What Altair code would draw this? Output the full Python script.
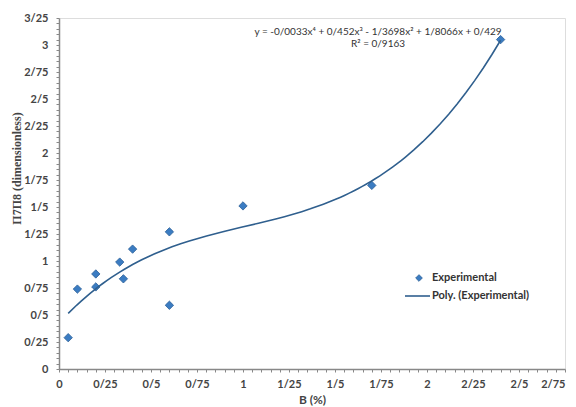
import altair as alt
import pandas as pd

b_pct = [0.05, 0.10, 0.20, 0.20, 0.33, 0.35, 0.40, 0.60, 0.60, 1.00, 1.70, 2.40]
pi78 = [0.29, 0.74, 0.88, 0.76, 0.99, 0.835, 1.11, 1.27, 0.59, 1.51, 1.70, 3.05]

x_ticks = [round(i * 0.05, 2) for i in range(56)]
y_ticks = [round(i * 0.05, 2) for i in range(66)]

equation = "y = -0/0033x\u2074 + 0/452x\u00b3 - 1/3698x\u00b2 + 1/8066x + 0/429"
r2 = "R\u00b2 = 0/9163"
legend_labels = ["Experimental", "Poly. (Experimental)"]

df = pd.DataFrame({"x": b_pct, "y": pi78})

label_expr = ("abs(datum.value*4 - round(datum.value*4)) < 0.001 ? "
              "replace(format(datum.value, '~g'), '.', '/') : ''")

MARK_FILL = "#3b7cc2"
MARK_STROKE = "#2a5e97"
LINE_COLOR = "#2f5f8e"
FONT = "Lato"

x_scale = alt.Scale(domain=[0, 2.75], nice=False, zero=False)
y_scale = alt.Scale(domain=[0, 3.25], nice=False, zero=False)

x_axis = alt.Axis(values=x_ticks, labelExpr=label_expr, title="B (%)", grid=False,
                  tickSize=3, tickColor="#888", domainColor="#888", domainWidth=1.5,
                  labelFont=FONT, labelFontSize=11, labelFontWeight="bold", labelColor="#444",
                  labelPadding=6, labelOverlap=False,
                  labelAlign={"expr": "datum.value > 2.7 ? 'right' : 'center'"},
                  titleFont=FONT, titleFontSize=12, titleFontWeight="bold", titleColor="#444",
                  titlePadding=5)
y_axis = alt.Axis(values=y_ticks, labelExpr=label_expr, title="\u03a07\u03a08 (dimensionless)",
                  grid=False, tickSize=3, tickColor="#888", domainColor="#888", domainWidth=1.5,
                  labelFont=FONT, labelFontSize=11, labelFontWeight="bold", labelColor="#444",
                  labelPadding=8, labelOverlap=False, labelFlush=False,
                  titleFont="Liberation Serif", titleFontSize=12, titleFontWeight="bold",
                  titleColor="#444", titleAngle=270, titleAlign="center", titleBaseline="middle",
                  titleX=-43, titleY=150)

base = alt.Chart(df)

points = base.mark_point(shape="diamond", filled=True, size=70, fill=MARK_FILL,
                         stroke=MARK_STROKE, strokeWidth=0.8, opacity=1).encode(
    x=alt.X("x:Q", scale=x_scale, axis=x_axis),
    y=alt.Y("y:Q", scale=y_scale, axis=y_axis),
)

curve = base.transform_regression("x", "y", method="poly", order=4, extent=[0.05, 2.4]).mark_line(
    color=LINE_COLOR, strokeWidth=1.6).encode(
    x=alt.X("x:Q", scale=x_scale, axis=x_axis),
    y=alt.Y("y:Q", scale=y_scale, axis=y_axis),
)

one = pd.DataFrame({"k": [0]})


def label(text, px, py, size, weight, align):
    return alt.Chart(one).mark_text(text=text, font=FONT, fontSize=size, fontWeight=weight,
                                    color="#333", align=align, baseline="middle").encode(
        x=alt.value(px), y=alt.value(py))


eq1 = label(equation, 319, 14, 10, "normal", "center")
eq2 = label(r2, 319, 26, 10, "normal", "center")
lg1 = label(legend_labels[0], 373, 260, 11, "bold", "left")
lg2 = label(legend_labels[1], 373, 278, 11, "bold", "left")

leg_sym = alt.Chart(one).mark_point(shape="diamond", filled=True, size=45,
                                    fill=MARK_FILL, stroke=MARK_STROKE,
                                    strokeWidth=0.8, opacity=1).encode(
    x=alt.value(360), y=alt.value(260))
leg_line = alt.Chart(one).mark_rule(color=LINE_COLOR, strokeWidth=1.6).encode(
    x=alt.value(346), x2=alt.value(371), y=alt.value(278))

chart = alt.layer(points, curve, eq1, eq2, lg1, lg2, leg_sym, leg_line).properties(
    width=506, height=351,
    autosize=alt.AutoSizeParams(type="none"),
    padding={"left": 51, "top": 10, "right": 3, "bottom": 38},
).configure_view(stroke="#888", strokeWidth=1.5).configure(background="white")

chart.save("out.html", embed_options={"renderer": "svg", "actions": False})
